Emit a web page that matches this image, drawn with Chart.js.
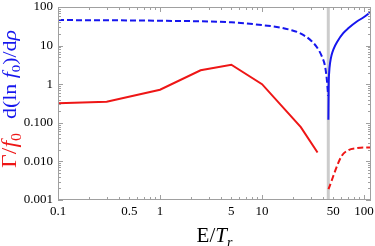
<!DOCTYPE html>
<html>
<head>
<meta charset="utf-8">
<script src="https://cdn.jsdelivr.net/npm/chart.js@4.4.1/dist/chart.umd.min.js"></script>
<style>
  html, body { margin: 0; padding: 0; background: #fff; }
  #wrap { width: 375px; height: 246px; }
</style>
</head>
<body>
<div id="wrap"><canvas id="chart" width="375" height="246"></canvas></div>
<script>
// values (E/T_r on x, log y)
const redSolidE = [0.1, 0.3, 1, 2.5, 5, 10, 24, 35];
const redSolidV = [0.32, 0.35, 0.72, 2.3, 3.2, 1.0, 0.077, 0.017];

const redDashE = [44.8, 60, 70, 85, 100, 117];
const redDashV = [0.0019, 0.0135, 0.0195, 0.022, 0.023, 0.023];

const blueDashE = [0.1, 1, 5, 10, 15, 18.8, 23.5, 30.7, 35.7, 38.5, 41.5, 43.2, 44.5];
const blueDashV = [46, 44, 40, 34, 29.5, 25.7, 21, 13, 7.9, 5.3, 2.9, 1.3, 0.5];

const blueSolidE = [44.7, 45, 45.5, 46.5, 48, 50, 55, 62.5, 70, 85, 100, 117];
const blueSolidV = [0.12, 0.9, 2.0, 3.6, 5.6, 7.9, 13, 21, 28, 42, 55, 76];

const resonanceE = 44.6;

const xTickValues = [0.1, 0.5, 1, 5, 10, 50, 100];
const xTickLabels = ['0.1', '0.5', '1', '5', '10', '50', '100'];
const yTickValues = [0.001, 0.01, 0.1, 1, 10, 100];
const yTickLabels = ['0.001', '0.010', '0.100', '1', '10', '100'];

const RED = 'rgb(238, 22, 22)';
const BLUE = 'rgb(22, 22, 238)';
const SERIF = '"Liberation Serif", "DejaVu Serif", serif';

function pts(xs, ys) {
    return xs.map((x, i) => ({ x: x, y: ys[i] }));
}

// draws a row of text pieces (italic / subscript) starting at 0,0,
// squeezed along the baseline to the wanted length
function drawRich(ctx, parts, size, length, align) {
    const subSize = Math.round(size * 0.66);
    const fontOf = p => (p.italic ? 'italic ' : '') + (p.sub ? subSize : size) + 'px ' + SERIF;
    let total = 0;
    parts.forEach(p => {
        ctx.font = fontOf(p);
        p.w = ctx.measureText(p.text).width;
        total += p.w;
    });
    const k = length ? length / total : 1;
    ctx.save();
    if (align === 'center') ctx.translate(-total * k / 2, 0);
    ctx.scale(k, 1);
    let x = 0;
    parts.forEach(p => {
        ctx.font = fontOf(p);
        ctx.fillStyle = p.color;
        ctx.fillText(p.text, x, p.sub ? size * 0.22 : 0);
        x += p.w;
    });
    ctx.restore();
}

const framePlugin = {
    id: 'frame',
    afterDatasetsDraw(chart) {
        const { ctx, chartArea: a, scales } = chart;
        ctx.save();
        ctx.strokeStyle = '#a0a0a0';
        ctx.lineWidth = 1;
        ctx.strokeRect(a.left + 0.5, a.top + 0.5, a.right - a.left - 1, a.bottom - a.top - 1);

        // inward ticks on all four sides
        const mult = [1, 2, 3, 4, 5, 6, 7, 8, 9];
        ctx.beginPath();
        [0.1, 1, 10, 100].forEach(d => mult.forEach(m => {
            const v = d * m;
            if (v > scales.x.max) return;
            const px = Math.round(scales.x.getPixelForValue(v)) + 0.5;
            const len = m === 1 ? 5 : 3;
            ctx.moveTo(px, a.bottom); ctx.lineTo(px, a.bottom - len);
            ctx.moveTo(px, a.top); ctx.lineTo(px, a.top + len);
        }));
        [0.001, 0.01, 0.1, 1, 10].forEach(d => mult.forEach(m => {
            const v = d * m;
            const py = Math.round(scales.y.getPixelForValue(v)) + 0.5;
            const len = m === 1 ? 5 : 3;
            ctx.moveTo(a.left, py); ctx.lineTo(a.left + len, py);
            ctx.moveTo(a.right, py); ctx.lineTo(a.right - len, py);
        }));
        ctx.stroke();
        ctx.restore();
    },
    afterDraw(chart) {
        const { ctx, chartArea: a } = chart;
        ctx.save();
        ctx.textBaseline = 'alphabetic';
        ctx.textAlign = 'left';

        // y title: red part low, blue part above it
        ctx.save();
        ctx.translate(16, 168);
        ctx.rotate(-Math.PI / 2);
        drawRich(ctx, [
            { text: 'Γ/', color: RED },
            { text: 'f', color: RED, italic: true },
            { text: '0', color: RED, sub: true }
        ], 21, 35);
        ctx.restore();

        ctx.save();
        ctx.translate(16, 119);
        ctx.rotate(-Math.PI / 2);
        drawRich(ctx, [
            { text: 'd(ln ', color: BLUE },
            { text: 'f', color: BLUE, italic: true },
            { text: '0', color: BLUE, sub: true },
            { text: ')/d', color: BLUE },
            { text: 'ρ', color: BLUE, italic: true }
        ], 19, 89);
        ctx.restore();

        // x title
        ctx.translate((a.left + a.right) / 2, 242);
        drawRich(ctx, [
            { text: 'E/', color: '#000' },
            { text: 'T', color: '#000', italic: true },
            { text: 'r', color: '#000', italic: true, sub: true }
        ], 21, 0, 'center');
        ctx.restore();
    }
};

const ctx = document.getElementById('chart').getContext('2d');
new Chart(ctx, {
    type: 'line',
    data: {
        datasets: [
            {
                data: pts(redSolidE, redSolidV),
                borderColor: RED, borderWidth: 2, pointRadius: 0, tension: 0
            },
            {
                data: pts(redDashE, redDashV),
                borderColor: RED, borderWidth: 2, borderDash: [6, 3], pointRadius: 0,
                cubicInterpolationMode: 'monotone'
            },
            {
                data: pts(blueDashE, blueDashV),
                borderColor: BLUE, borderWidth: 2, borderDash: [6, 3], pointRadius: 0,
                cubicInterpolationMode: 'monotone'
            },
            {
                data: pts(blueSolidE, blueSolidV),
                borderColor: BLUE, borderWidth: 2, pointRadius: 0,
                cubicInterpolationMode: 'monotone'
            },
            {
                data: [{ x: resonanceE, y: 0.001 }, { x: resonanceE, y: 100 }],
                borderColor: '#cccccc', borderWidth: 3, pointRadius: 0
            }
        ]
    },
    options: {
        responsive: false,
        animation: false,
        devicePixelRatio: 1,
        layout: { padding: { top: 7, right: 4, left: 0, bottom: 0 } },
        plugins: { legend: { display: false }, tooltip: { enabled: false } },
        scales: {
            x: {
                type: 'logarithmic',
                min: 0.1, max: 117,
                grid: { display: false, drawTicks: false },
                border: { display: false },
                afterBuildTicks: s => { s.ticks = xTickValues.map(v => ({ value: v })); },
                afterFit: s => { s.height = 46; s.paddingLeft = 0; s.paddingRight = 0; },
                ticks: {
                    color: '#000', padding: 4, maxRotation: 0, autoSkip: false,
                    font: { family: SERIF, size: 13 },
                    callback: (v, i) => xTickLabels[i]
                }
            },
            y: {
                type: 'logarithmic',
                min: 0.001, max: 100,
                grid: { display: false, drawTicks: false },
                border: { display: false },
                afterBuildTicks: s => { s.ticks = yTickValues.map(v => ({ value: v })); },
                afterFit: s => { s.width = 58; s.paddingTop = 0; s.paddingBottom = 0; },
                ticks: {
                    color: '#000', padding: 5, autoSkip: false,
                    font: { family: SERIF, size: 13 },
                    callback: (v, i) => yTickLabels[i]
                }
            }
        }
    },
    plugins: [framePlugin]
});
</script>
</body>
</html>
